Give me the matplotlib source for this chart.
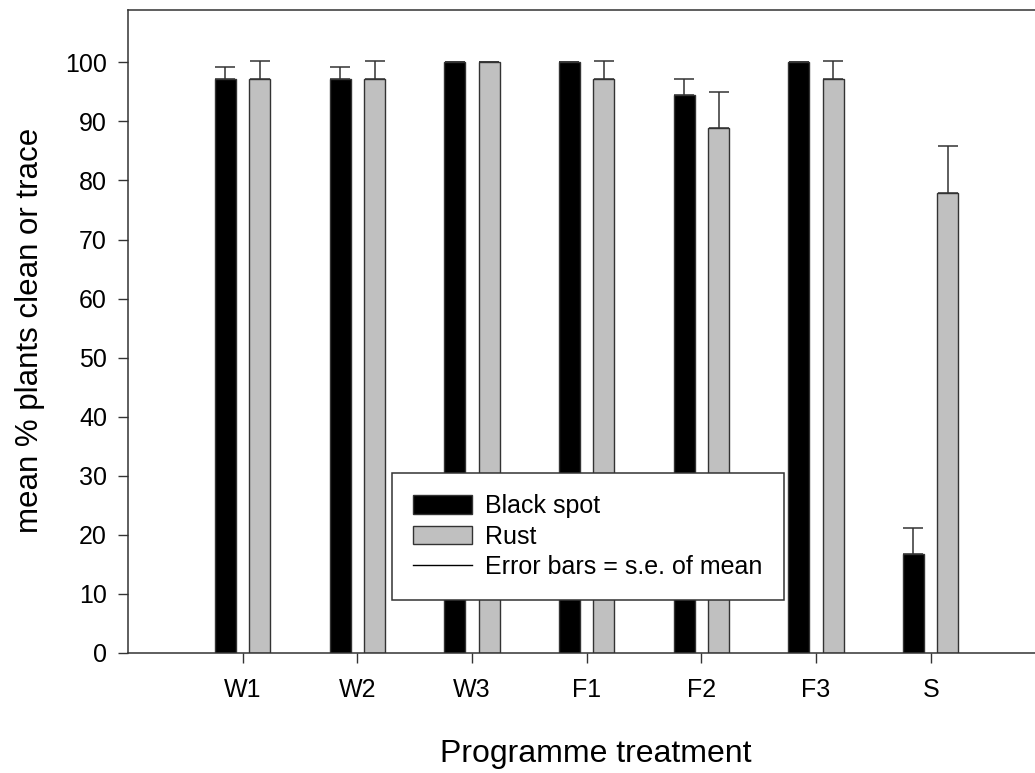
import matplotlib
matplotlib.use('Agg')
import matplotlib.pyplot as plt
import numpy as np
from matplotlib.patches import Patch
from matplotlib.lines import Line2D

plt.rcParams['font.family'] = ['Liberation Sans', 'DejaVu Sans']

treatments = ['W1', 'W2', 'W3', 'F1', 'F2', 'F3', 'S']
black_spot = [97.2, 97.2, 100.0, 100.0, 94.4, 100.0, 16.7]
black_spot_se = [2.0, 2.0, 0.0, 0.0, 2.8, 0.0, 4.5]
rust = [97.2, 97.2, 100.0, 97.2, 88.9, 97.2, 77.8]
rust_se = [3.1, 3.1, 0.0, 3.1, 6.0, 3.1, 8.0]

W, H = 1035, 773
fig = plt.figure(figsize=(W / 100, H / 100), dpi=100)
left_px, right_px, top_px, bot_px = 128, 1060, 10, 653
ax = fig.add_axes([left_px / W, 1 - bot_px / H, (right_px - left_px) / W, (bot_px - top_px) / H])

unit = 114.67
x = np.arange(1, len(treatments) + 1)
bw = 21 / unit
off = 17.3 / unit

ax.bar(x - off, black_spot, bw, color='black', edgecolor='#333333', linewidth=1, zorder=2)
ax.bar(x + off, rust, bw, color='#c0c0c0', edgecolor='#333333', linewidth=1, zorder=2)

zero = np.zeros(len(treatments))
ax.errorbar(x - off, black_spot, yerr=[zero, black_spot_se], fmt='none', ecolor='#333333',
            elinewidth=1.1, capsize=7.5, capthick=1.1, zorder=3)
ax.errorbar(x + off, rust, yerr=[zero, rust_se], fmt='none', ecolor='#333333',
            elinewidth=1.1, capsize=7.5, capthick=1.1, zorder=3)

ax.set_xlim(0, (right_px - left_px) / unit)
ax.set_ylim(0, (bot_px - top_px) / 5.907)
ax.set_xticks(x)
ax.set_xticklabels(treatments)
ax.set_yticks(np.arange(0, 101, 10))

for s in ['left', 'top', 'bottom']:
    ax.spines[s].set_color('#333333')
    ax.spines[s].set_linewidth(1.1)
ax.spines['right'].set_visible(False)

ax.tick_params(axis='both', direction='out', length=7.2, width=1, color='#333333', labelsize=18)
ax.tick_params(axis='x', pad=11)
ax.tick_params(axis='y', pad=8)

fig.text(596 / W, 1 - 754 / H, 'Programme treatment', ha='center', va='center', fontsize=23)
fig.text(30 / W, 1 - 330 / H, 'mean % plants clean or trace', ha='center', va='center',
         rotation=90, fontsize=22.5)

handles = [Patch(facecolor='black', edgecolor='#333333', linewidth=1),
           Patch(facecolor='#c0c0c0', edgecolor='#333333', linewidth=1),
           Line2D([], [], color='black', linewidth=1)]
labels = ['Black spot', 'Rust', 'Error bars = s.e. of mean']
leg = ax.legend(handles, labels, loc='upper left', bbox_to_anchor=(392 / W, 1 - 473 / H),
                bbox_transform=fig.transFigure, fontsize=18, frameon=True, fancybox=False,
                framealpha=1, handlelength=2.36, handleheight=0.76, handletextpad=0.52,
                labelspacing=0.25, borderpad=0.85, borderaxespad=0)
leg.get_frame().set_edgecolor('#333333')
leg.get_frame().set_linewidth(1.1)

fig.savefig('out.png', dpi=100)
